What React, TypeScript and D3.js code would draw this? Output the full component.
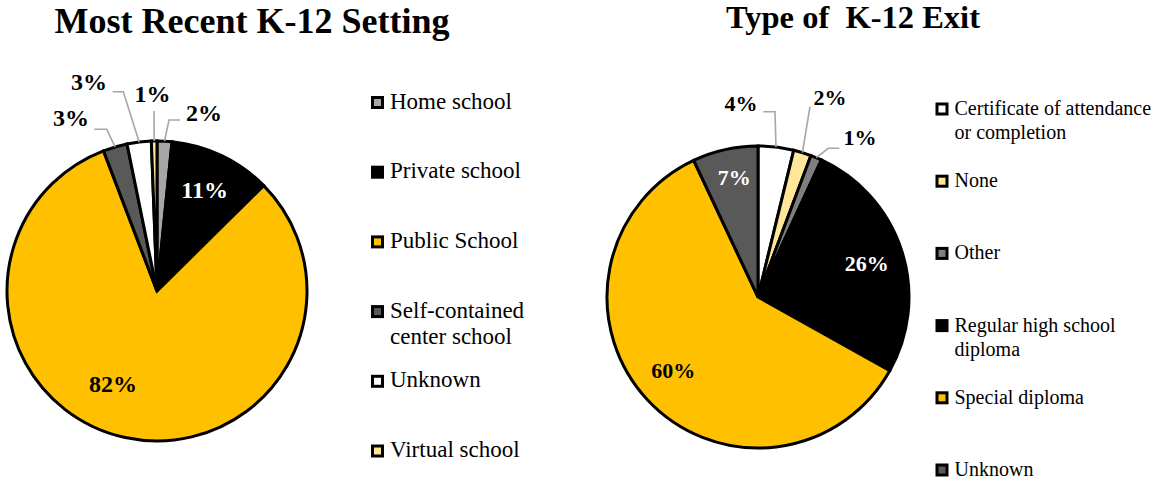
import React from "react";
import * as d3 from "d3";

// ---------- Data ----------
const settingCategories = [
  "Home school",
  "Private school",
  "Public School",
  "Self-contained center school",
  "Unknown",
  "Virtual school",
];
const settingValues = [1.6, 11.0, 81.6, 2.6, 2.6, 0.6];
const settingLegendLines = [
  ["Home school"],
  ["Private school"],
  ["Public School"],
  ["Self-contained", "center school"],
  ["Unknown"],
  ["Virtual school"],
];

const exitCategories = [
  "Certificate of attendance or completion",
  "None",
  "Other",
  "Regular high school diploma",
  "Special diploma",
  "Unknown",
];
const exitValues = [3.8, 1.9, 1.2, 26.2, 59.9, 7.0];
const exitLegendLines = [
  ["Certificate of attendance", "or completion"],
  ["None"],
  ["Other"],
  ["Regular high school", "diploma"],
  ["Special diploma"],
  ["Unknown"],
];

// ---------- Styles ----------
const settingColors = ["#a6a6a6", "#000000", "#ffc000", "#595959", "#ffffff", "#ffe699"];
const exitColors = ["#ffffff", "#ffe699", "#7f7f7f", "#000000", "#ffc000", "#595959"];
const FONT = "'Liberation Serif', 'Times New Roman', serif";
const LEADER = "#a6a6a6";

type OutsideLabel = { text: [number, number]; path: [number, number][] };

// manual label placement for small slices (offsets relative to pie centre)
const settingOutside: Record<number, OutsideLabel> = {
  0: { text: [47, -178.5], path: [[12, -171], [23, -171]] },
  5: { text: [-4.5, -197], path: [[-3, -180]] },
  4: { text: [-68, -209], path: [[-33.7, -199.3], [-44.3, -199.3]] },
  3: { text: [-86, -173], path: [[-50.3, -161.7], [-62.7, -161.7]] },
};
const exitOutside: Record<number, OutsideLabel> = {
  0: { text: [-17, -193], path: [[17, -185.3], [5.3, -185.3]] },
  1: { text: [72, -199], path: [[52, -190.3]] },
  2: { text: [102, -159], path: [[70.3, -148.7], [81.3, -148.7]] },
};
// small nudges of inside labels (best-fit placement)
const settingNudge: Record<number, [number, number]> = { 1: [1, -4], 2: [-21, -13] };
const exitNudge: Record<number, [number, number]> = { 5: [1, -9], 3: [1, 2], 4: [-2, -4] };

type PieProps = {
  title: string;
  titleX: number;
  titleY: number;
  titleSize: number;
  categories: string[];
  values: number[];
  colors: string[];
  legendLines: string[][];
  cx: number;
  cy: number;
  r: number;
  labelSize: number;
  insideRatio: number;
  outside: Record<number, OutsideLabel>;
  nudge: Record<number, [number, number]>;
  legendX: number;
  legendY0: number;
  legendStep: number;
  legendSize: number;
  legendLineGap: number;
};

function PieChart(p: PieProps) {
  const pie = d3
    .pie<number>()
    .sort(null)
    .value((d) => d)
    .startAngle(0)
    .endAngle(2 * Math.PI);
  const arcs = pie(p.values);
  const arc = d3.arc<d3.PieArcDatum<number>>().innerRadius(0).outerRadius(p.r);
  const labelArc = d3
    .arc<d3.PieArcDatum<number>>()
    .innerRadius(p.r * p.insideRatio)
    .outerRadius(p.r * p.insideRatio);
  const total = d3.sum(p.values);
  const pct = (v: number) => `${Math.round((v / total) * 100)}%`;

  return (
    <g>
      <text
        x={p.titleX}
        y={p.titleY}
        textAnchor="middle"
        fontFamily={FONT}
        fontWeight="bold"
        fontSize={p.titleSize}
        style={{ whiteSpace: "pre" }}
      >
        {p.title}
      </text>
      <g transform={`translate(${p.cx},${p.cy})`}>
        {arcs.map((a, i) => (
          <path
            key={i}
            d={arc(a) || ""}
            fill={p.colors[i]}
            stroke="#000"
            strokeWidth={3}
          />
        ))}
        {arcs.map((a, i) => {
          const o = p.outside[i];
          if (o) {
            const mid = (a.startAngle + a.endAngle) / 2;
            const sx = p.r * Math.sin(mid);
            const sy = -p.r * Math.cos(mid);
            const pts: [number, number][] = [[sx, sy], ...o.path];
            const line = d3.line()(pts) || "";
            return (
              <g key={"o" + i}>
                <path d={line} fill="none" stroke={LEADER} strokeWidth={1.6} />
                <text
                  x={o.text[0]}
                  y={o.text[1] + p.labelSize * 0.34}
                  textAnchor="middle"
                  fontFamily={FONT}
                  fontWeight="bold"
                  fontSize={p.labelSize}
                  fill="#000"
                >
                  {pct(p.values[i])}
                </text>
              </g>
            );
          }
          const [lx, ly] = labelArc.centroid(a);
          const [nx, ny] = p.nudge[i] || [0, 0];
          const dark = p.colors[i] === "#000000" || p.colors[i] === "#595959";
          return (
            <text
              key={"i" + i}
              x={lx + nx}
              y={ly + ny + p.labelSize * 0.34}
              textAnchor="middle"
              fontFamily={FONT}
              fontWeight="bold"
              fontSize={p.labelSize}
              fill={dark ? "#ffffff" : "#000000"}
            >
              {pct(p.values[i])}
            </text>
          );
        })}
      </g>
      <g>
        {p.categories.map((c, i) => {
          const y = p.legendY0 + i * p.legendStep;
          return (
            <g key={c}>
              <rect
                x={p.legendX + 1.5}
                y={y - 5}
                width={10}
                height={10}
                fill={p.colors[i]}
                stroke="#000"
                strokeWidth={3}
              />
              {p.legendLines[i].map((ln, j) => (
                <text
                  key={j}
                  x={p.legendX + 19}
                  y={y + 6 + j * p.legendLineGap}
                  fontFamily={FONT}
                  fontSize={p.legendSize}
                  fill="#000"
                >
                  {ln}
                </text>
              ))}
            </g>
          );
        })}
      </g>
    </g>
  );
}

export default function App() {
  return (
    <div style={{ position: "fixed", left: 0, top: 0 }}>
      <svg width={1154} height={487} style={{ display: "block", background: "#fff" }}>
        <PieChart
          title="Most Recent K-12 Setting"
          titleX={252}
          titleY={33}
          titleSize={36}
          categories={settingCategories}
          values={settingValues}
          colors={settingColors}
          legendLines={settingLegendLines}
          cx={157}
          cy={291}
          r={150}
          labelSize={24}
          insideRatio={0.72}
          outside={settingOutside}
          nudge={settingNudge}
          legendX={371}
          legendY0={102.5}
          legendStep={69.7}
          legendSize={23}
          legendLineGap={26}
        />
        <PieChart
          title="Type of  K-12 Exit"
          titleX={853}
          titleY={28}
          titleSize={32.5}
          categories={exitCategories}
          values={exitValues}
          colors={exitColors}
          legendLines={exitLegendLines}
          cx={758}
          cy={297}
          r={151}
          labelSize={22}
          insideRatio={0.75}
          outside={exitOutside}
          nudge={exitNudge}
          legendX={935.5}
          legendY0={109}
          legendStep={72.2}
          legendSize={20}
          legendLineGap={24}
        />
      </svg>
    </div>
  );
}
